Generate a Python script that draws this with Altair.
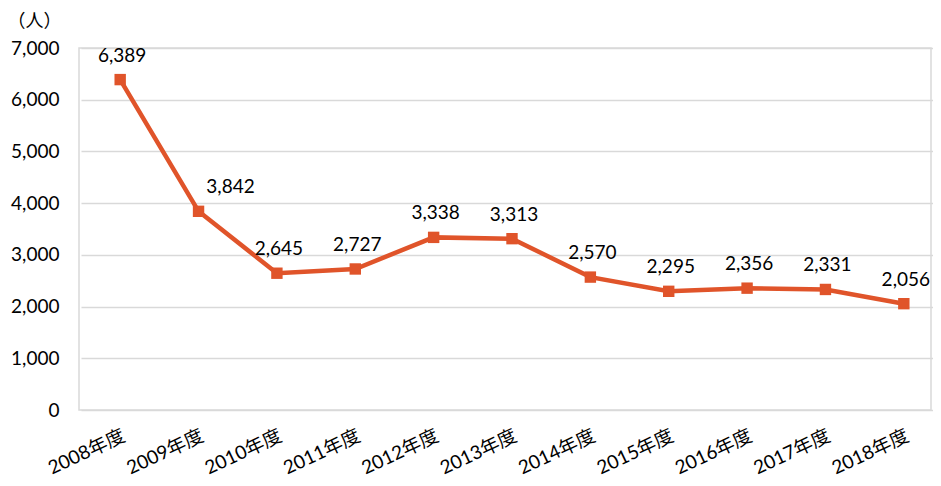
import altair as alt
import pandas as pd

years = ["2008年度", "2009年度", "2010年度", "2011年度", "2012年度", "2013年度",
         "2014年度", "2015年度", "2016年度", "2017年度", "2018年度"]
values = [6389, 3842, 2645, 2727, 3338, 3313, 2570, 2295, 2356, 2331, 2056]

df = pd.DataFrame({"year": years, "value": values})
df["label"] = df["value"].map(lambda v: f"{v:,}")

FONT = "Lato, 'Noto Sans CJK JP'"
COLOR = "#E0542A"
FS = 19

x = alt.X("year:N", sort=years,
          scale=alt.Scale(type="band", paddingInner=0, paddingOuter=0, range=[2, 864]),
          axis=alt.Axis(title=None, labelAngle=-25, labelAlign="right", labelBaseline="top",
                        labelFont=FONT, labelFontSize=FS, labelColor="#000000",
                        labelPadding=16, domain=False, ticks=False, grid=False, labelOffset=0))
y = alt.Y("value:Q", scale=alt.Scale(domain=[0, 7000], nice=False),
          axis=alt.Axis(values=list(range(0, 7001, 1000)), format=",.0f", title="（人）",
                        titleAngle=0, titleAlign="left", titleBaseline="middle",
                        titleX=-72, titleY=-27, titleFont=FONT, titleFontSize=18,
                        titleFontWeight="normal", titleColor="#000000",
                        labelFont=FONT, labelFontSize=FS, labelColor="#000000",
                        labelPadding=20, domain=False, ticks=False,
                        gridColor="#D9D9D9", gridWidth=1.5))

base = alt.Chart(df).encode(x=x, y=y)
line = base.mark_line(color=COLOR, strokeWidth=4.5)
pts = base.mark_point(shape="square", filled=True, opacity=1, color=COLOR, size=130)
txt = base.transform_filter(alt.datum.year != "2009年度").mark_text(
    dy=-24, dx=2, font=FONT, fontSize=FS, color="#000000").encode(text="label:N")
txt2 = base.transform_filter(alt.datum.year == "2009年度").mark_text(
    dy=-24, dx=32, font=FONT, fontSize=FS, color="#000000").encode(text="label:N")

chart = (line + pts + txt + txt2).properties(
    width=852, height=362,
    autosize=alt.AutoSizeParams(type="none"),
    padding={"left": 71, "top": 40, "right": 2, "bottom": 76},
).configure_view(stroke="#D9D9D9", strokeWidth=1.5)

chart.save("out.html", embed_options={"renderer": "svg", "actions": False})
